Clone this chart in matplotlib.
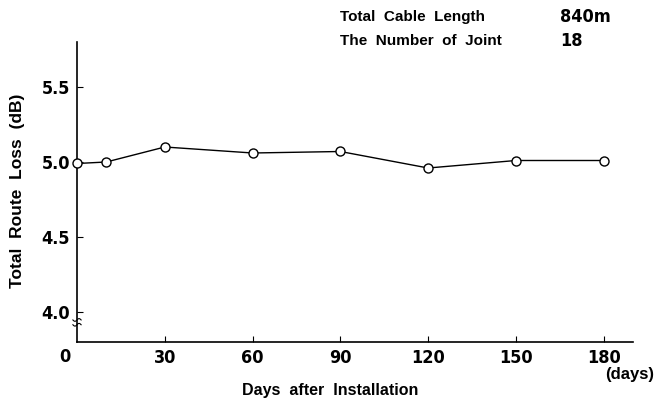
import matplotlib
matplotlib.use("Agg")
import matplotlib.pyplot as plt
import numpy as np

# Route loss measured over the first half-year after installation
days = [0, 10, 30, 60, 90, 120, 150, 180]
loss_db = [4.99, 5.00, 5.10, 5.06, 5.07, 4.96, 5.01, 5.01]
xticks = [30, 60, 90, 120, 150, 180]
yticks = [4.0, 4.5, 5.0, 5.5]

SANS = ["Liberation Sans", "DejaVu Sans"]
num = dict(family="DejaVu Sans", stretch="condensed", weight="bold", fontsize=13)

W, H = 657, 398
fig = plt.figure(figsize=(W / 100, H / 100), dpi=100)
ax = fig.add_axes([77 / W, 1 - 342 / H, (633 - 77) / W, (342 - 42) / H])

ax.plot(days, loss_db, color="black", lw=1.0, marker="o", ms=6.5,
        mfc="white", mec="black", mew=1.0, clip_on=False, zorder=3)

ax.set_xlim(0, 190)
ax.set_ylim(3.80, 5.80)
ax.spines[["top", "right"]].set_visible(False)
for s in ("left", "bottom"):
    ax.spines[s].set_linewidth(1.2)

ax.set_xticks(xticks)
ax.set_yticks(yticks)
ax.set_xticklabels([str(t) for t in xticks], **num)
ax.set_yticklabels([f"{t:.1f}" for t in yticks], **num)
ax.tick_params(direction="in", length=4, width=0.8, pad=5)

# origin label and axis break on the y axis
ax.annotate("0", xy=(0, 3.80), xytext=(-9, -4), textcoords="offset points",
            ha="center", va="top", **num)
tt = np.linspace(-1.4, 1.4, 30)
for y0 in (3.915, 3.947):
    ax.plot(tt, y0 + 0.009 * np.sin(tt / 1.4 * np.pi), color="black", lw=0.8,
            clip_on=False, zorder=4)

fig.text(18 / W, 1 - 191 / H, "Total  Route  Loss  (dB)", rotation=90, ha="center",
         va="center", family=SANS, weight="bold", fontsize=12.5)
fig.text(330 / W, 1 - 391 / H, "Days  after  Installation", ha="center", va="center",
         family=SANS, weight="bold", fontsize=11.5)
fig.text(630 / W, 1 - 374 / H, "(days)", ha="center", va="center",
         family=SANS, weight="bold", fontsize=12)

fig.text(340 / W, 1 - 17 / H, "Total  Cable  Length", ha="left", va="center",
         family=SANS, weight="bold", fontsize=11)
fig.text(560 / W, 1 - 17 / H, "840m", ha="left", va="center", **num)
fig.text(340 / W, 1 - 41 / H, "The  Number  of  Joint", ha="left", va="center",
         family=SANS, weight="bold", fontsize=11)
fig.text(560 / W, 1 - 41 / H, "18", ha="left", va="center", **num)

fig.savefig("out.png", dpi=100)
